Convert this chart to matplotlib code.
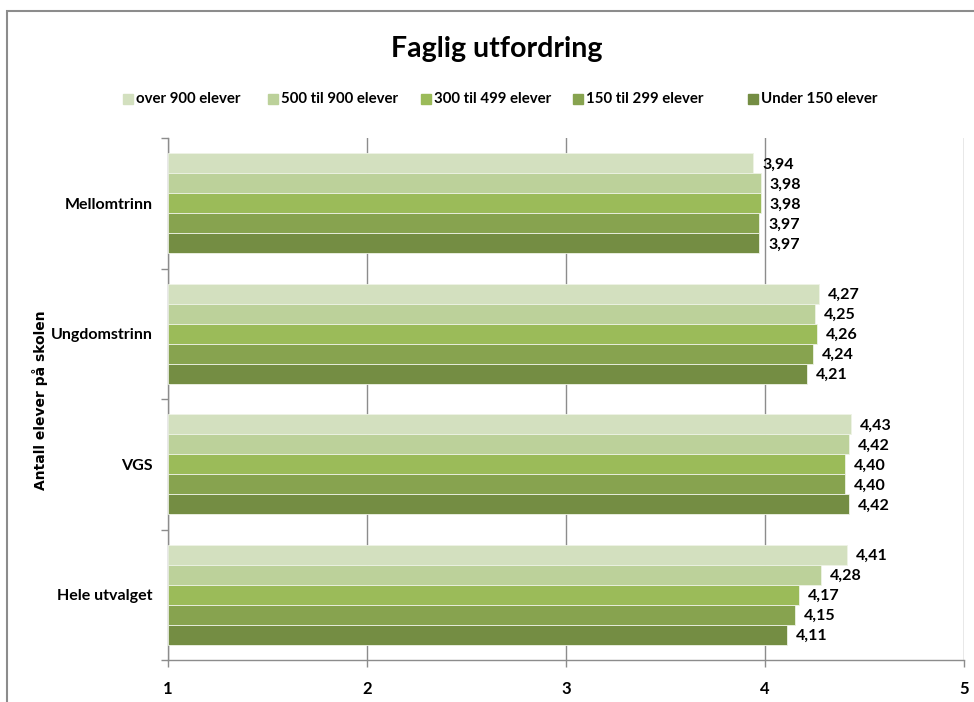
import matplotlib
matplotlib.use("Agg")
import matplotlib.pyplot as plt
from matplotlib.patches import Rectangle
import numpy as np

plt.rcParams['font.family'] = ['Lato', 'DejaVu Sans']

categories = ["Mellomtrinn", "Ungdomstrinn", "VGS", "Hele utvalget"]
series_names = ["over 900 elever", "500 til 900 elever", "300 til 499 elever",
                "150 til 299 elever", "Under 150 elever"]
over_900 = [3.94, 4.27, 4.43, 4.41]
s500_900 = [3.98, 4.25, 4.42, 4.28]
s300_499 = [3.98, 4.26, 4.40, 4.17]
s150_299 = [3.97, 4.24, 4.40, 4.15]
under_150 = [3.97, 4.21, 4.42, 4.11]
series = [over_900, s500_900, s300_499, s150_299, under_150]
colors = ["#D3E0BF", "#BCD19A", "#9BBB59", "#87A34F", "#748D43"]
x_ticks = [1, 2, 3, 4, 5]

fig = plt.figure(figsize=(9.74, 7.02), dpi=100)
# outer frame
fig.patches.append(Rectangle((7/974, -0.01), 1.2, 1 - 11/702 + 0.01, transform=fig.transFigure,
                             fill=False, edgecolor="#8C8C8C", linewidth=1.5))

ax = fig.add_axes([168/974, 1 - 660/702, (964 - 168)/974, (660 - 138)/702])

n_cat = len(categories)
n_ser = len(series)
bar_h = 0.154
ypos = np.arange(n_cat)
for i, (vals, col, name) in enumerate(zip(series, colors, series_names)):
    offs = (i - (n_ser - 1) / 2) * bar_h
    y = ypos + offs
    widths = [v - 1 for v in vals]
    ax.barh(y, widths, left=1, height=bar_h, color=col, edgecolor="#EEF3E6",
            linewidth=0.6, label=name, zorder=3)
    for yy, v in zip(y, vals):
        ax.text(v + 0.045, yy + 0.01, f"{v:.2f}".replace(".", ","), va="center", ha="left",
                fontsize=11.5, fontweight="bold", zorder=4)

ax.set_xlim(1, 5)
ax.set_ylim(n_cat - 0.5, -0.5)
ax.set_xticks(x_ticks)
ax.set_xticklabels([str(t) for t in x_ticks], fontsize=12, fontweight="bold")
ax.set_yticks(ypos)
ax.set_yticklabels(categories, fontsize=11.5, fontweight="bold")
ax.tick_params(axis='y', length=0, pad=11)
ax.set_yticks(np.arange(-0.5, n_cat, 1), minor=True)
ax.tick_params(axis='y', which='minor', length=5, color="#8C8C8C", width=1)
ax.tick_params(axis='x', length=5, color="#8C8C8C", width=1, pad=10, direction='out')
ax.xaxis.grid(True, color="#8C8C8C", linewidth=1, zorder=0)
for s in ["top", "right"]:
    ax.spines[s].set_visible(False)
for s in ["left", "bottom"]:
    ax.spines[s].set_color("#8C8C8C")
    ax.spines[s].set_linewidth(1)

fig.text(40/974, 1 - 400/702, "Antall elever på skolen", rotation=90, ha="center", va="center",
         fontsize=10, fontweight="bold", family="DejaVu Sans")

fig.text(497/974, 1 - 49/702, "Faglig utfordring", ha="center", va="center",
         fontsize=20.5, fontweight="bold")

# legend, placed manually along one row
leg_x = [123, 268, 421, 573, 748]
leg_y = 99
for lx, col, name in zip(leg_x, colors, series_names):
    fig.patches.append(Rectangle((lx/974, 1 - (leg_y + 5)/702), 10/974, 10/702,
                                 transform=fig.transFigure, color=col))
    fig.text((lx + 13)/974, 1 - leg_y/702, name, ha="left", va="center",
             fontsize=10.8, fontweight="bold")

fig.savefig("out.png", dpi=100)
